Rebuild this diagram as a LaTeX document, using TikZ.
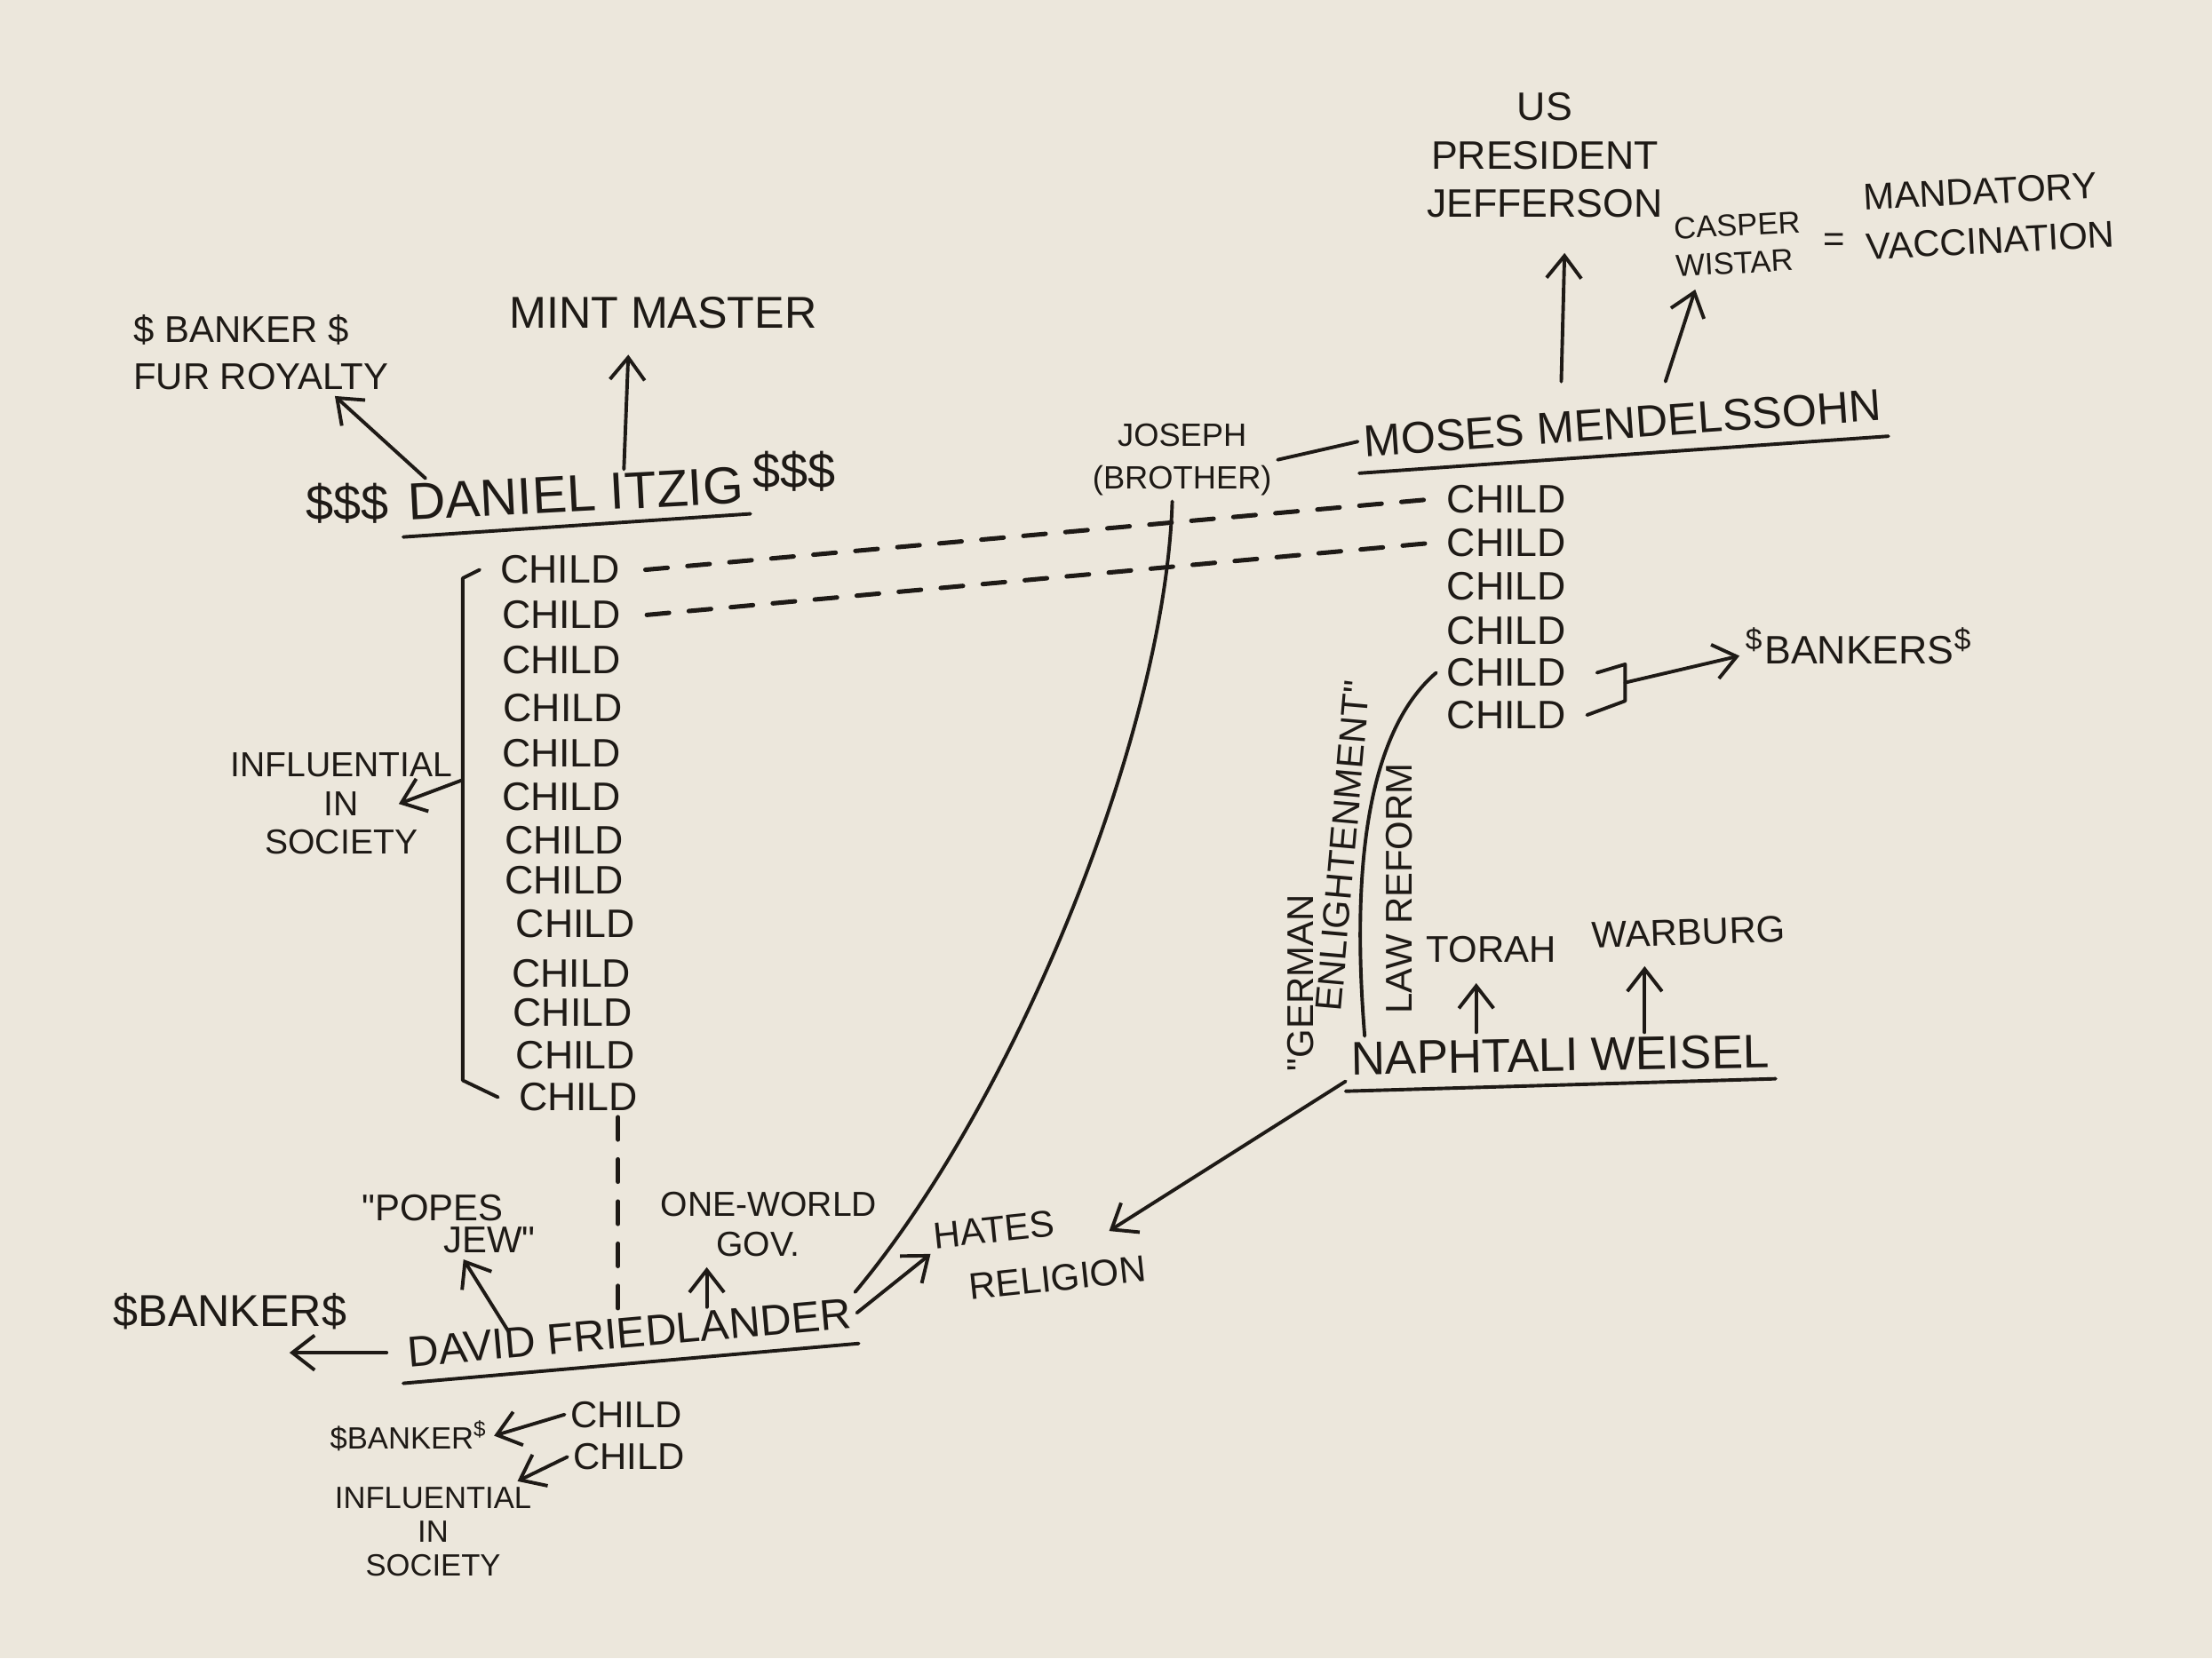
\documentclass[tikz,border=0pt]{standalone}
\usepackage{fontspec}
\setmainfont{Liberation Sans}
\usetikzlibrary{arrows.meta, positioning, calc}
\definecolor{Paper}{RGB}{236,231,220}
\definecolor{Ink}{RGB}{30,26,22}

\begin{document}
\begin{tikzpicture}[x=0.01cm, y=-0.01cm,
    every node/.style={text=Ink, inner sep=1pt},
    person/.style={font=\fontsize{10}{12}\selectfont},
    kid/.style={font=\fontsize{8}{9}\selectfont},
    note/.style={font=\fontsize{7.5}{9.5}\selectfont, align=center},
    tiny/.style={font=\fontsize{6.2}{7.6}\selectfont, align=center},
    pen/.style={draw=Ink, line width=0.7pt, line cap=round, line join=round},
    arr/.style={pen, -{Straight Barb[length=4.5pt, width=7pt]}},
    dsh/.style={pen, line width=0.9pt, dash pattern=on 4.5pt off 4pt}
  ]
  \fill[Paper] (0,0) rectangle (1568,1176);
  \useasboundingbox (0,0) rectangle (1568,1176);

  % Daniel Itzig
  \node[person, font=\fontsize{10.5}{12}\selectfont, rotate=3] (itzig) at (408,350) {DANIEL ITZIG};
  \node[person] (ldol) at (246,357) {\$\$\$};
  \node[person] (rdol) at (563,334) {\$\$\$};
  \draw[pen] ([yshift=-2pt]itzig.south west) -- ([yshift=-1pt]itzig.south east);
  \node[note, align=left] (royal) at (185,250) {\$ BANKER \$\\FUR ROYALTY};
  \node[person, font=\fontsize{9}{11}\selectfont] (mint) at (470,222) {MINT MASTER};
  \draw[arr] ([xshift=5pt]itzig.north west) -- ([xshift=-12pt]royal.south east);
  \draw[arr] ([xshift=10pt]itzig.north) -- ([xshift=-7pt,yshift=-4pt]mint.south);

  % Itzig's children
  \foreach \i/\x/\y in {1/397/404, 2/398/436, 3/398/468, 4/399/502, 5/398/534,
                        6/398/565, 7/400/596, 8/400/624, 9/408/655, 10/405/690,
                        11/406/718, 12/408/748, 13/410/778} {
    \node[kid] (ic\i) at (\x,\y) {CHILD};
  }
  \coordinate (btop) at (328,410);
  \coordinate (bbot) at (328,766);
  \coordinate (bmid) at (328,553);
  \draw[pen] ([xshift=-3pt]ic1.west) -- (btop) -- (bbot) -- ([xshift=-3pt]ic13.west);
  \node[note, font=\fontsize{7}{7.8}\selectfont] (infl) at (242,570) {INFLUENTIAL\\IN\\SOCIETY};
  \draw[arr] (bmid) -- ([xshift=-12pt]infl.east);

  % Moses Mendelssohn
  \node[person, font=\fontsize{9}{11}\selectfont, rotate=4] (moses) at (1150,300) {MOSES MENDELSSOHN};
  \draw[pen] ([yshift=-2pt]moses.south west) -- ([yshift=-2pt]moses.south east);
  \node[tiny, font=\fontsize{6.5}{8.5}\selectfont] (jos) at (838,326) {JOSEPH\\(BROTHER)};
  \draw[pen] (jos.east) -- (moses.west);
  \node[note, font=\fontsize{8}{9.7}\selectfont] (jeff) at (1095,110) {US\\PRESIDENT\\JEFFERSON};
  \node[tiny, align=left, rotate=3] (wistar) at (1232,173) {CASPER\\WISTAR};
  \node[note] (eq) at (1300,172) {=};
  \node[note, align=left, rotate=3, font=\fontsize{7.5}{10}\selectfont] (vacc) at (1410,153) {MANDATORY\\VACCINATION};
  \draw[arr] ([xshift=-12pt,yshift=4pt]moses.north) -- ([xshift=4pt,yshift=-6pt]jeff.south);
  \draw[arr] ([xshift=9pt,yshift=4pt]moses.north) -- ([xshift=-9pt,yshift=-2pt]wistar.south);

  % Mendelssohn's children
  \foreach \i/\y in {1/354, 2/385, 3/416, 4/447, 5/477, 6/507} {
    \node[kid] (mc\i) at (1068,\y) {CHILD};
  }
  \draw[pen] ([xshift=5pt]mc5.east) -- ++(20,-6) -- ++(0,26) -- ([xshift=3pt]mc6.east);
  \coordinate (mbk) at (1152,484);
  \node[note, font=\fontsize{8}{9}\selectfont] (bankers) at (1318,458) {\textsuperscript{\$}BANKERS\textsuperscript{\$}};
  \draw[arr] (mbk) -- ([yshift=-2pt]bankers.west);

  % marriages
  \draw[dsh] ([xshift=4pt]ic1.east) -- ([xshift=-2pt]mc1.west);
  \draw[dsh] ([xshift=4pt]ic2.east) -- ([xshift=-2pt]mc2.west);

  % Naphtali Weisel
  \node[person, font=\fontsize{9.5}{11}\selectfont, rotate=1] (naph) at (1106,748) {NAPHTALI WEISEL};
  \draw[pen] ([yshift=-2pt]naph.south west) -- ([yshift=-1pt]naph.south east);
  \node[note] (torah) at (1057,673) {TORAH};
  \node[note, rotate=2] (warb) at (1197,661) {WARBURG};
  \draw[arr] ([xshift=-3pt]torah.south |- naph.north) -- ([xshift=-3pt,yshift=-3pt]torah.south);
  \draw[arr] ([xshift=-9pt]warb.south |- naph.north) -- ([xshift=-9pt,yshift=-3pt]warb.south);
  \draw[pen] ([xshift=4pt]naph.north west) .. controls (958,620) and (968,520) .. ([xshift=-1pt]mc5.west);
  \node[note, rotate=90] (german) at (922,697) {\textquotedbl GERMAN};
  \node[note, rotate=85] (enlight) at (952,600) {ENLIGHTENMENT\textquotedbl};
  \node[note, rotate=90] (lawref) at (992,630) {LAW REFORM};

  % David Friedlander
  \node[person, font=\fontsize{8.7}{10}\selectfont, rotate=5] (fried) at (446,945) {DAVID FRIEDLANDER};
  \draw[pen] ([yshift=-2pt]fried.south west) -- ([yshift=-2pt]fried.south east);
  \draw[dsh] ([xshift=8pt]ic13.south) -- ([xshift=8pt]ic13.south |- fried.north);
  \draw[pen] ([xshift=-2pt]jos.south) .. controls (826,520) and (720,780) .. (fried.north east);
  \node[person, font=\fontsize{9}{10}\selectfont] (fbank) at (163,930) {\$BANKER\$};
  \draw[arr] ([xshift=-3pt]fried.west) -- ([xshift=12pt]fried.west -| fbank.center);
  \node[note, align=left, font=\fontsize{7.5}{6.5}\selectfont] (popes) at (318,868) {\textquotedbl POPES\\\hspace*{2.2em}JEW\textquotedbl};
  \draw[arr] ([xshift=22pt]fried.north west) -- ([xshift=3pt]popes.south);
  \node[note, align=left, font=\fontsize{7}{8}\selectfont] (owg) at (545,868) {ONE-WORLD\\\hspace*{1.6em}GOV.};
  \draw[arr] ([xshift=16pt,yshift=1pt]fried.north) -- ([xshift=16pt,yshift=-1pt]fried.north |- owg.south);
  \node[note, align=left, rotate=6, font=\fontsize{7.5}{11}\selectfont] (hates) at (737,888) {HATES\\\hspace*{0.8em}RELIGION};
  \draw[arr] (fried.east) -- ([yshift=2pt]hates.west);
  \draw[arr] (naph.south west) -- ([xshift=-8pt,yshift=2pt]hates.east);

  % Friedlander's children
  \node[kid, font=\fontsize{7.5}{9}\selectfont] (fc1) at (444,1003) {CHILD};
  \node[kid, font=\fontsize{7.5}{9}\selectfont] (fc2) at (446,1033) {CHILD};
  \node[tiny] (fbank2) at (290,1018) {\$BANKER\textsuperscript{\$}};
  \draw[arr] (fc1.west) -- (fbank2.east);
  \node[tiny, font=\fontsize{6.2}{6.8}\selectfont] (finfl) at (307,1086) {INFLUENTIAL\\IN\\SOCIETY};
  \draw[arr] (fc2.west) -- ([xshift=-4pt]finfl.north east);
\end{tikzpicture}
\end{document}
